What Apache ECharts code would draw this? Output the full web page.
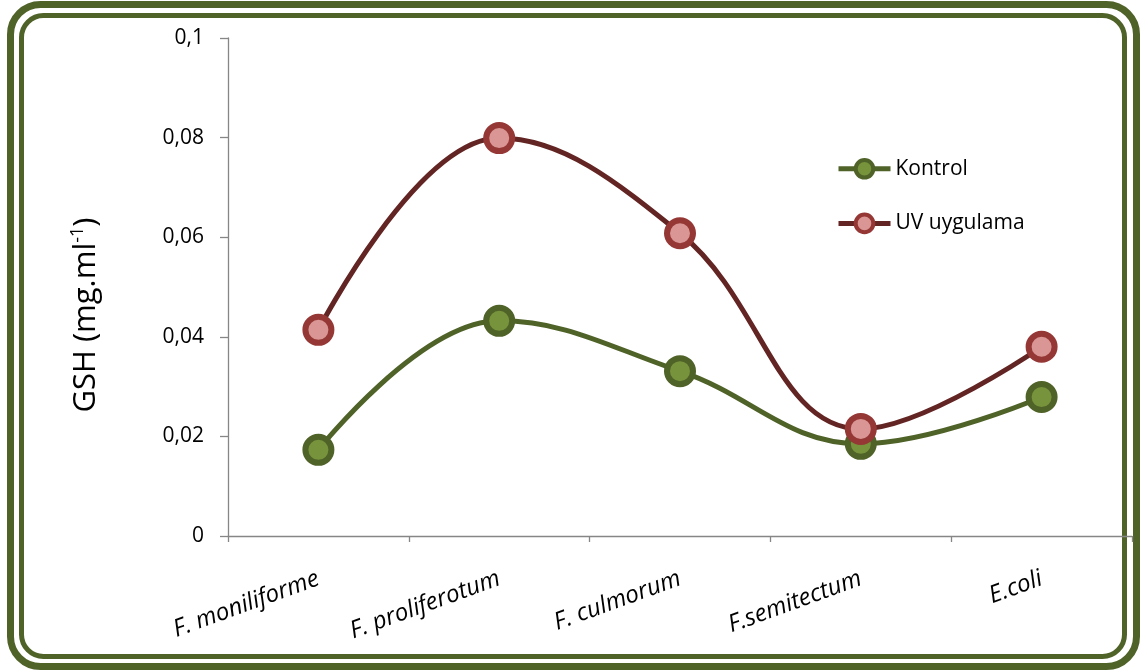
<!DOCTYPE html>
<html>
<head>
<meta charset="utf-8">
<script src="https://cdn.jsdelivr.net/npm/echarts@6/dist/echarts.min.js"></script>
<style>
  html, body { margin: 0; padding: 0; background: #ffffff; }
  #chart { width: 1144px; height: 672px; }
</style>
</head>
<body>
<div id="chart"></div>
<script>
// Strains tested
const categories = ['F. moniliforme', 'F. proliferotum', 'F. culmorum', 'F.semitectum', 'E.coli'];
// GSH content (mg/ml)
const kontrol = [0.0173, 0.0432, 0.0331, 0.0185, 0.0279];
const uvUygulama = [0.0414, 0.0799, 0.0608, 0.0215, 0.038];
const seriesNames = ['Kontrol', 'UV uygulama'];

const FONT = '"Open Sans", sans-serif';
const AXIS_GRAY = '#868686';
const FRAME = '#4F6228';

const STYLES = [
  { line: '#4F6228', fill: '#77933C', border: '#4F6228' },
  { line: '#632523', fill: '#D99694', border: '#953735' }
];

const chart = echarts.init(document.getElementById('chart'), null, { renderer: 'canvas' });

function fmt(v) {
  return String(parseFloat(v.toFixed(3))).replace('.', ',');
}

chart.setOption({
  backgroundColor: '#ffffff',
  animation: false,
  grid: { left: 228, right: 12, top: 38, bottom: 136, containLabel: false },
  legend: {
    orient: 'vertical',
    left: 831,
    top: 153,
    itemWidth: 52,
    itemHeight: 22,
    itemGap: 33,
    textStyle: { fontFamily: FONT, fontSize: 21, color: '#000' },
    data: seriesNames.map((n, i) => ({
      name: n,
      lineStyle: { color: STYLES[i].line, width: 5 },
      itemStyle: { color: STYLES[i].fill, borderColor: STYLES[i].border, borderWidth: 4 }
    }))
  },
  xAxis: {
    type: 'category',
    data: categories,
    boundaryGap: true,
    axisLine: { lineStyle: { color: AXIS_GRAY, width: 1.3 } },
    axisTick: { show: true, length: 6, lineStyle: { color: AXIS_GRAY, width: 1.3 } },
    axisLabel: {
      rotate: 20,
      margin: 42,
      fontFamily: FONT,
      fontSize: 24,
      fontStyle: 'italic',
      color: '#000'
    },
    splitLine: { show: false }
  },
  yAxis: {
    type: 'value',
    min: 0,
    max: 0.1,
    interval: 0.02,
    axisLine: { show: true, lineStyle: { color: AXIS_GRAY, width: 1.3 } },
    axisTick: { show: true, inside: false, length: 8, lineStyle: { color: AXIS_GRAY, width: 1.3 } },
    axisLabel: {
      margin: 24,
      fontFamily: FONT,
      fontSize: 21,
      color: '#000',
      formatter: fmt
    },
    splitLine: { show: false }
  },
  graphic: [
    {
      type: 'rect',
      shape: { x: 10.5, y: 4.5, width: 1126, height: 662, r: 30 },
      style: { fill: 'none', stroke: FRAME, lineWidth: 7 },
      silent: true
    },
    {
      type: 'rect',
      shape: { x: 21.5, y: 15.5, width: 1103, height: 641, r: 22 },
      style: { fill: 'none', stroke: FRAME, lineWidth: 5 },
      silent: true
    },
    {
      type: 'text',
      x: 86,
      y: 315,
      rotation: Math.PI / 2,
      style: {
        text: '{a|GSH (mg.ml}{s|-1}{a|)}',
        align: 'center',
        verticalAlign: 'middle',
        fill: '#000',
        rich: {
          a: { fontFamily: FONT, fontSize: 31, fill: '#000' },
          s: { fontFamily: FONT, fontSize: 18, fill: '#000', verticalAlign: 'top', padding: [0, 0, 16, 0] }
        }
      },
      silent: true
    }
  ],
  series: [kontrol, uvUygulama].map((vals, i) => ({
    name: seriesNames[i],
    type: 'line',
    data: vals,
    smooth: 0.4,
    symbol: 'circle',
    symbolSize: 26,
    lineStyle: { color: STYLES[i].line, width: 5 },
    itemStyle: { color: STYLES[i].fill, borderColor: STYLES[i].border, borderWidth: 6 },
    z: 2 + i
  }))
});
</script>
</body>
</html>
